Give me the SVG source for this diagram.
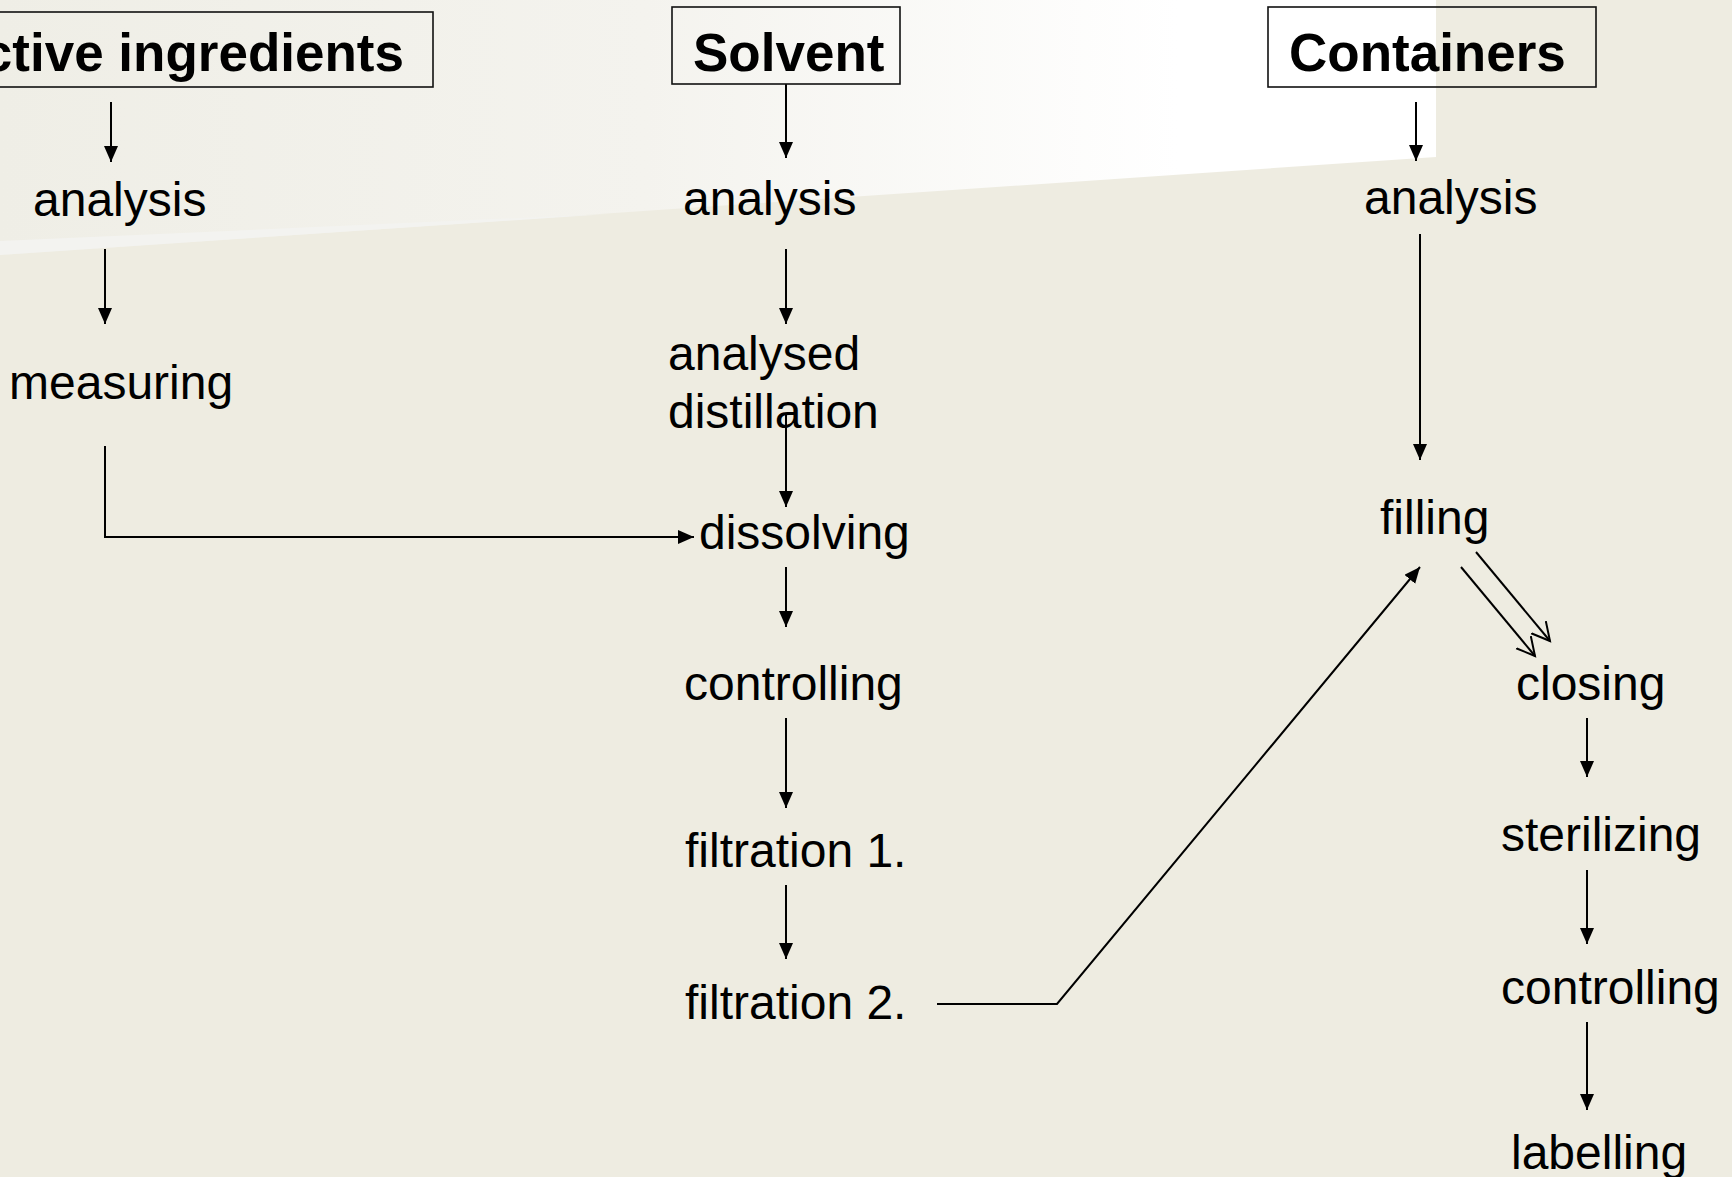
<svg xmlns="http://www.w3.org/2000/svg" width="1732" height="1177" viewBox="0 0 1732 1177">
<defs>
<linearGradient id="lightGrad" x1="0" y1="0" x2="1436" y2="0" gradientUnits="userSpaceOnUse">
<stop offset="0" stop-color="#EFEEE6"/>
<stop offset="0.45" stop-color="#F4F3EE"/>
<stop offset="0.82" stop-color="#FFFFFF"/>
<stop offset="1" stop-color="#FFFFFF"/>
</linearGradient>
<marker id="arrow" markerUnits="userSpaceOnUse" markerWidth="17" markerHeight="15" refX="16" refY="7" orient="auto" viewBox="0 0 17 15">
<path d="M0,0 L16,7 L0,14 Z" fill="#000"/>
</marker>
<marker id="openArrow" markerUnits="userSpaceOnUse" markerWidth="22" markerHeight="22" refX="18" refY="10" orient="auto" viewBox="0 0 22 22">
<path d="M0,0.5 L18,10 L0,19.5" fill="none" stroke="#000" stroke-width="2"/>
</marker>
</defs>
<style>
.lbl{font-family:"Liberation Sans",Arial,sans-serif;font-size:48px;fill:#000}
.hdr{font-family:"Liberation Sans",Arial,sans-serif;font-size:53px;font-weight:bold;fill:#000}
.box{fill:none;stroke:#111;stroke-width:1.6}
.con{fill:none;stroke:#000;stroke-width:2}
.arr{marker-end:url(#arrow)}
.oarr{marker-end:url(#openArrow)}
</style>
<rect x="0" y="0" width="1732" height="1177" fill="#EEECE1"/>
<polygon points="0,0 1436,0 1436,157 0,255" fill="url(#lightGrad)"/>
<polygon points="0,241 608,214 0,255" fill="#F3F3F0"/>

<g id="connectors">
<line class="con arr" x1="111" y1="102" x2="111" y2="162"/>
<line class="con arr" x1="105" y1="249" x2="105" y2="324"/>
<polyline class="con arr" points="105,446 105,537 694,537"/>
<line class="con arr" x1="786" y1="84" x2="786" y2="158"/>
<line class="con arr" x1="786" y1="249" x2="786" y2="324"/>
<line class="con arr" x1="786" y1="415" x2="786" y2="507"/>
<line class="con arr" x1="786" y1="567" x2="786" y2="627"/>
<line class="con arr" x1="786" y1="718" x2="786" y2="808"/>
<line class="con arr" x1="786" y1="885" x2="786" y2="959"/>
<polyline class="con arr" points="937,1004 1057,1004 1420,567"/>
<line class="con arr" x1="1416" y1="102" x2="1416" y2="161"/>
<line class="con arr" x1="1420" y1="234" x2="1420" y2="460"/>
<line class="con oarr" x1="1461" y1="567" x2="1535" y2="656"/>
<line class="con oarr" x1="1476" y1="552" x2="1550" y2="641"/>
<line class="con arr" x1="1587" y1="718" x2="1587" y2="777"/>
<line class="con arr" x1="1587" y1="870" x2="1587" y2="944"/>
<line class="con arr" x1="1587" y1="1022" x2="1587" y2="1110"/>
</g>

<g id="active-ingredients">
<rect class="box" x="-10" y="12" width="443" height="75"/>
<text class="hdr" x="404" y="71" text-anchor="end">ctive ingredients</text>
</g>
<g id="ai-analysis"><text class="lbl" x="33" y="216">analysis</text></g>
<g id="ai-measuring"><text class="lbl" x="9" y="399">measuring</text></g>

<g id="solvent">
<rect class="box" x="672" y="7" width="228" height="77"/>
<text class="hdr" x="693" y="71">Solvent</text>
</g>
<g id="s-analysis"><text class="lbl" x="683" y="215">analysis</text></g>
<g id="s-distillation">
<text class="lbl" x="668" y="370">analysed</text>
<text class="lbl" x="668" y="428">distillation</text>
</g>
<g id="s-dissolving"><text class="lbl" x="699" y="549">dissolving</text></g>
<g id="s-controlling"><text class="lbl" x="684" y="700">controlling</text></g>
<g id="s-filtration1"><text class="lbl" x="685" y="867">filtration 1.</text></g>
<g id="s-filtration2"><text class="lbl" x="685" y="1019">filtration 2.</text></g>

<g id="containers">
<rect class="box" x="1268" y="7" width="328" height="80"/>
<text class="hdr" x="1289" y="71">Containers</text>
</g>
<g id="c-analysis"><text class="lbl" x="1364" y="214">analysis</text></g>
<g id="c-filling"><text class="lbl" x="1380" y="534">filling</text></g>
<g id="c-closing"><text class="lbl" x="1516" y="700">closing</text></g>
<g id="c-sterilizing"><text class="lbl" x="1501" y="851">sterilizing</text></g>
<g id="c-controlling"><text class="lbl" x="1501" y="1004">controlling</text></g>
<g id="c-labelling"><text class="lbl" x="1511" y="1169">labelling</text></g>
</svg>
